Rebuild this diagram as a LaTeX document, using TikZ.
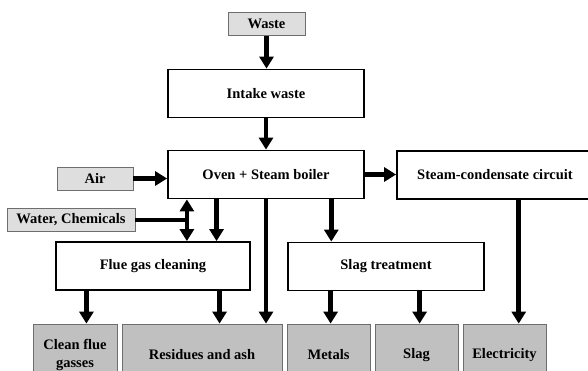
\documentclass[tikz,border=0pt]{standalone}
\usepackage{fontspec}
\setmainfont{Liberation Serif}
\usepackage{xcolor}
\usetikzlibrary{arrows.meta,calc}

\definecolor{inlight}{RGB}{222,222,222}
\definecolor{outgray}{RGB}{192,192,192}
\definecolor{edgegray}{RGB}{110,110,110}

\begin{document}
\begin{tikzpicture}[x=1pt, y=-1pt,
    every node/.style={font=\bfseries\fontsize{14.5}{18}\selectfont},
    proc/.style={draw, line width=1.8pt, fill=white, minimum height=48pt},
    inbox/.style={draw=edgegray, line width=0.8pt, fill=inlight, minimum height=23pt},
    outbox/.style={draw=edgegray, line width=0.8pt, fill=outgray, minimum height=62pt, align=center},
    flow/.style={line width=4.5pt, -{Triangle[length=12pt,width=14pt]}},
    dflow/.style={line width=4.5pt, {Triangle[length=12pt,width=14pt]}-{Triangle[length=12pt,width=14pt]}}]
        \useasboundingbox[fill=white] (0,0) rectangle (588,370);

        % Inputs
        \node[inbox, minimum width=77pt] (waste) at (266.5,24) {Waste};
        \node[inbox, minimum width=76pt] (air) at (95,178.5) {Air};
        \node[inbox, minimum width=128pt] (water) at (71,220) {Water, Chemicals};

        % Process boxes
        \node[proc, minimum width=196pt] (intake) at (266,93.5) {Intake waste};
        \node[proc, minimum width=196pt] (oven) at (266,174.5) {Oven + Steam boiler};
        \node[proc, minimum width=196pt] (steam) at (495,175) {Steam-condensate circuit};
        \node[proc, minimum width=194pt] (flue) at (153,266) {Flue gas cleaning};
        \node[proc, minimum width=196pt] (slagt) at (386,266.5) {Slag treatment};

        % Outputs
        \node[outbox, minimum width=84pt] (clean) at (75,355) {Clean flue\\gasses};
        \node[outbox, minimum width=160pt] (resid) at (202,355) {Residues and ash};
        \node[outbox, minimum width=83pt] (metals) at (328.5,355) {Metals};
        \node[outbox, minimum width=83pt] (slag) at (416.5,355) {Slag};
        \node[outbox, minimum width=83pt] (elec) at (504.5,355) {Electricity};

        % Start points of the connectors
        \coordinate (o1) at ($(oven.south west)!0.1!(oven.south east)$);
        \coordinate (o2) at ($(oven.south west)!0.25!(oven.south east)$);
        \coordinate (o3) at ($(oven.south west)!0.83!(oven.south east)$);
        \coordinate (f1) at ($(flue.south west)!0.16!(flue.south east)$);
        \coordinate (f2) at ($(flue.south west)!0.84!(flue.south east)$);
        \coordinate (s1) at ($(slagt.south west)!0.22!(slagt.south east)$);
        \coordinate (s2) at ($(slagt.south west)!0.67!(slagt.south east)$);
        \coordinate (c1) at ($(steam.south west)!0.62!(steam.south east)$);

        % Arrows
        \draw[flow] (waste.south) -- (waste.south |- intake.north);
        \draw[flow] (intake.south) -- (oven.north);
        \draw[flow] (air.east) -- (air.east -| oven.west);
        \draw[flow] (oven.east) -- (oven.east -| steam.west);
        \draw[dflow] (o1) -- (o1 |- flue.north);
        \draw[line width=4.5pt] (water.east) -- (water.east -| o1);
        \draw[flow] (o2) -- (o2 |- flue.north);
        \draw[flow] (oven.south) -- (oven.south |- resid.north);
        \draw[flow] (o3) -- (o3 |- slagt.north);
        \draw[flow] (c1) -- (c1 |- elec.north);
        \draw[flow] (f1) -- (f1 |- clean.north);
        \draw[flow] (f2) -- (f2 |- resid.north);
        \draw[flow] (s1) -- (s1 |- metals.north);
        \draw[flow] (s2) -- (s2 |- slag.north);
    \end{tikzpicture}
\end{document}
